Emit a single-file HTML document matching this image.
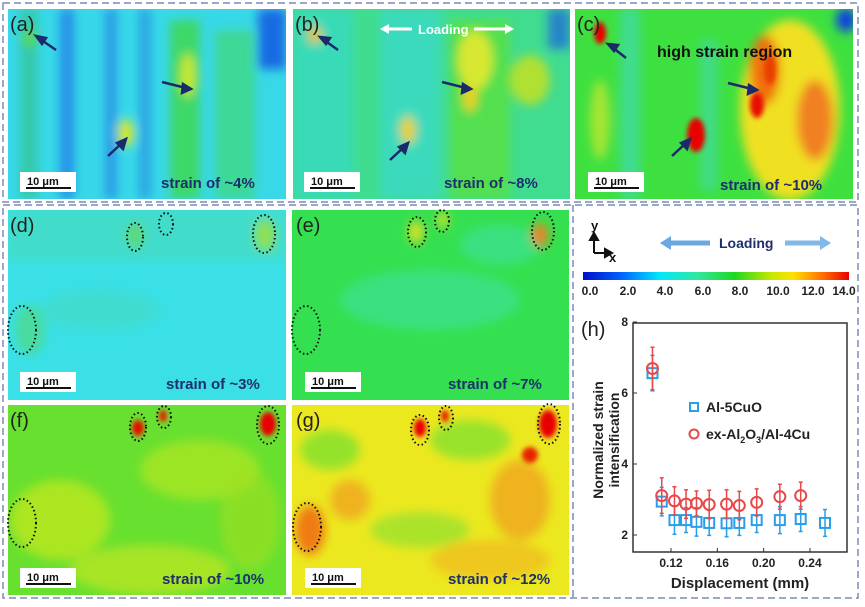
<!DOCTYPE html>
<html><head><meta charset="utf-8"><style>
html,body{margin:0;padding:0;background:#fff;width:865px;height:607px;overflow:hidden;font-family:"Liberation Sans",sans-serif}
svg text{font-family:"Liberation Sans",sans-serif}
</style></head><body>
<svg id="fig" width="865" height="607" viewBox="0 0 865 607" xmlns="http://www.w3.org/2000/svg">
<defs>
<filter id="bl" x="-50%" y="-50%" width="200%" height="200%"><feGaussianBlur stdDeviation="5"/></filter>
<filter id="bl2" x="-50%" y="-50%" width="200%" height="200%"><feGaussianBlur stdDeviation="2.5"/></filter>
<linearGradient id="jet" x1="0" x2="1" y1="0" y2="0">
<stop offset="0" stop-color="#0010c8"/><stop offset="0.14" stop-color="#0060ff"/><stop offset="0.29" stop-color="#00e8f8"/><stop offset="0.43" stop-color="#30e8a0"/><stop offset="0.57" stop-color="#20d820"/><stop offset="0.71" stop-color="#c8e800"/><stop offset="0.79" stop-color="#ffe000"/><stop offset="0.9" stop-color="#ff7000"/><stop offset="1" stop-color="#e80000"/>
</linearGradient>
<clipPath id="ca"><rect x="8" y="9" width="278" height="190"/></clipPath>
<clipPath id="cb"><rect x="293" y="9" width="277" height="190"/></clipPath>
<clipPath id="cc"><rect x="575" y="9" width="278" height="190"/></clipPath>
<clipPath id="cd"><rect x="8" y="210" width="278" height="190"/></clipPath>
<clipPath id="ce"><rect x="292" y="210" width="277" height="190"/></clipPath>
<clipPath id="cf"><rect x="8" y="405" width="278" height="190"/></clipPath>
<clipPath id="cg"><rect x="292" y="405" width="277" height="190"/></clipPath>
</defs>
<g fill="none" stroke="#7a8cb8" stroke-width="1.5" stroke-dasharray="7,4">
<rect x="3" y="3" width="855" height="199"/>
<rect x="3" y="205" width="855" height="393"/>
<line x1="573" y1="205" x2="573" y2="598"/>
</g>

<g clip-path="url(#ca)">
<rect x="8" y="9" width="278" height="190" fill="#38d8e8"/>
<g filter="url(#bl)">
<rect x="20" y="9" width="18" height="190" fill="#30c080" opacity=".6"/>
<rect x="60" y="9" width="14" height="190" fill="#1a70e8" opacity=".7"/>
<rect x="105" y="9" width="12" height="190" fill="#1a70e8" opacity=".6"/>
<rect x="140" y="9" width="10" height="190" fill="#1a60e0" opacity=".5"/>
<rect x="170" y="20" width="30" height="179" fill="#40d848" opacity=".8"/>
<rect x="215" y="30" width="40" height="169" fill="#40d860" opacity=".6"/>
<rect x="258" y="9" width="28" height="60" fill="#1050e0" opacity=".8"/>
<ellipse cx="126" cy="133" rx="8" ry="14" fill="#d8e820"/>
<ellipse cx="188" cy="75" rx="8" ry="22" fill="#c8e830"/>
<ellipse cx="30" cy="38" rx="7" ry="8" fill="#60d840"/>
</g></g>
<g clip-path="url(#cb)">
<rect x="293" y="9" width="277" height="190" fill="#40dc90"/>
<g filter="url(#bl)">
<rect x="293" y="9" width="60" height="190" fill="#30d8d0" opacity=".6"/>
<rect x="380" y="9" width="60" height="190" fill="#38d8d8" opacity=".6"/>
<rect x="450" y="20" width="60" height="179" fill="#58e040" opacity=".8"/>
<ellipse cx="475" cy="60" rx="18" ry="30" fill="#d8e830"/>
<ellipse cx="530" cy="80" rx="20" ry="25" fill="#b0e030"/>
<ellipse cx="408" cy="130" rx="8" ry="14" fill="#f0d020"/>
<ellipse cx="470" cy="98" rx="7" ry="14" fill="#f0d020"/>
<ellipse cx="315" cy="35" rx="7" ry="9" fill="#f0c020"/>
<rect x="548" y="9" width="22" height="40" fill="#1860e0" opacity=".7"/>
</g></g>
<g clip-path="url(#cc)">
<rect x="575" y="9" width="278" height="190" fill="#3ee040"/>
<g filter="url(#bl)">
<rect x="620" y="9" width="20" height="190" fill="#40d8c8" opacity=".6"/>
<rect x="700" y="40" width="18" height="150" fill="#40d8c8" opacity=".5"/>
<ellipse cx="790" cy="110" rx="50" ry="90" fill="#f0e020"/>
<ellipse cx="765" cy="70" rx="15" ry="35" fill="#f07010"/>
<ellipse cx="815" cy="120" rx="18" ry="40" fill="#f08020"/>
<ellipse cx="600" cy="120" rx="10" ry="40" fill="#d0e830" opacity=".7"/>
<ellipse cx="846" cy="20" rx="10" ry="12" fill="#1040e0"/>
</g>
<g filter="url(#bl2)">
<ellipse cx="696" cy="135" rx="9" ry="17" fill="#e80000"/>
<ellipse cx="757" cy="105" rx="7" ry="13" fill="#e81000"/>
<ellipse cx="600" cy="33" rx="6" ry="11" fill="#e80000"/>
<ellipse cx="770" cy="70" rx="6" ry="15" fill="#e84000"/>
</g></g>
<g clip-path="url(#cd)">
<rect x="8" y="210" width="278" height="190" fill="#3ae0e6"/>
<g filter="url(#bl)">
<rect x="8" y="210" width="278" height="50" fill="#50d8a0" opacity=".4"/>
<ellipse cx="30" cy="330" rx="15" ry="25" fill="#50d880" opacity=".7"/>
<ellipse cx="265" cy="235" rx="10" ry="16" fill="#90e050"/>
<ellipse cx="135" cy="235" rx="8" ry="12" fill="#60d870"/>
<ellipse cx="100" cy="310" rx="60" ry="20" fill="#48d8b0" opacity=".4"/>
</g></g>
<g clip-path="url(#ce)">
<rect x="292" y="210" width="277" height="190" fill="#34e050"/>
<g filter="url(#bl)">
<ellipse cx="430" cy="300" rx="90" ry="30" fill="#40e0b0" opacity=".5"/>
<ellipse cx="500" cy="245" rx="40" ry="20" fill="#40e0b0" opacity=".5"/>
<ellipse cx="540" cy="235" rx="8" ry="12" fill="#f08020"/>
<ellipse cx="416" cy="232" rx="7" ry="11" fill="#e8e020"/>
<ellipse cx="443" cy="220" rx="5" ry="8" fill="#e0e020"/>
</g></g>
<g clip-path="url(#cf)">
<rect x="8" y="405" width="278" height="190" fill="#68e030"/>
<g filter="url(#bl)">
<ellipse cx="60" cy="520" rx="50" ry="40" fill="#c8e820" opacity=".7"/>
<ellipse cx="200" cy="470" rx="60" ry="30" fill="#c0e820" opacity=".6"/>
<ellipse cx="150" cy="570" rx="80" ry="25" fill="#d0e820" opacity=".6"/>
<ellipse cx="250" cy="520" rx="30" ry="50" fill="#a0e020" opacity=".6"/>
</g>
<g filter="url(#bl2)">
<ellipse cx="268" cy="424" rx="8" ry="12" fill="#e80000"/>
<ellipse cx="138" cy="428" rx="6" ry="8" fill="#e81000"/>
<ellipse cx="163" cy="416" rx="4" ry="6" fill="#e82000"/>
</g></g>
<g clip-path="url(#cg)">
<rect x="292" y="405" width="277" height="190" fill="#ece820"/>
<g filter="url(#bl)">
<ellipse cx="330" cy="450" rx="30" ry="20" fill="#70e030" opacity=".7"/>
<ellipse cx="470" cy="440" rx="40" ry="20" fill="#60e030" opacity=".6"/>
<ellipse cx="420" cy="530" rx="50" ry="18" fill="#80e030" opacity=".6"/>
<ellipse cx="310" cy="530" rx="15" ry="25" fill="#f06010" opacity=".8"/>
<ellipse cx="350" cy="500" rx="20" ry="20" fill="#f09020" opacity=".6"/>
<ellipse cx="520" cy="500" rx="30" ry="40" fill="#f09020" opacity=".6"/>
<ellipse cx="490" cy="560" rx="60" ry="20" fill="#f0b020" opacity=".6"/>
</g>
<g filter="url(#bl2)">
<ellipse cx="548" cy="424" rx="9" ry="14" fill="#e80000"/>
<ellipse cx="420" cy="428" rx="6" ry="9" fill="#e80000"/>
<ellipse cx="445" cy="416" rx="4" ry="6" fill="#e82000"/>
<ellipse cx="530" cy="455" rx="8" ry="8" fill="#e82000"/>
</g></g>

<g fill="none" stroke="#111" stroke-width="2" stroke-dasharray="1.5,2.5">
<ellipse cx="135" cy="237" rx="8" ry="14"/><ellipse cx="166" cy="224" rx="7" ry="11"/><ellipse cx="264" cy="234" rx="11" ry="19"/><ellipse cx="22" cy="330" rx="14" ry="24"/>
<ellipse cx="417" cy="232" rx="9" ry="15"/><ellipse cx="442" cy="221" rx="7" ry="11"/><ellipse cx="543" cy="231" rx="11" ry="19"/><ellipse cx="306" cy="330" rx="14" ry="24"/>
<ellipse cx="138" cy="427" rx="8" ry="14"/><ellipse cx="164" cy="417" rx="7" ry="11"/><ellipse cx="268" cy="425" rx="11" ry="19"/><ellipse cx="22" cy="523" rx="14" ry="24"/>
<ellipse cx="420" cy="430" rx="9" ry="15"/><ellipse cx="446" cy="418" rx="7" ry="12"/><ellipse cx="549" cy="424" rx="11" ry="20"/><ellipse cx="307" cy="527" rx="14" ry="24"/>
</g>
<g stroke="#1a2a6a" stroke-width="2.5" fill="#1a2a6a">
<line x1="56" y1="50" x2="40" y2="39"/><polygon points="36,36 46,38 42,44"/>
<line x1="108" y1="156" x2="122" y2="143"/><polygon points="126,139 123,149 117,143"/>
<line x1="162" y1="82" x2="186" y2="88"/><polygon points="191,89 182,93 183,84"/>
<line x1="338" y1="50" x2="324" y2="40"/><polygon points="320,37 330,38 326,44"/>
<line x1="390" y1="160" x2="404" y2="147"/><polygon points="408,143 405,153 399,147"/>
<line x1="442" y1="82" x2="466" y2="88"/><polygon points="471,89 462,93 463,84"/>
<line x1="626" y1="58" x2="612" y2="47"/><polygon points="608,44 618,45 614,51"/>
<line x1="672" y1="156" x2="686" y2="143"/><polygon points="690,139 687,149 681,143"/>
<line x1="728" y1="83" x2="752" y2="89"/><polygon points="757,90 748,94 749,85"/>
</g>
<g font-size="20" fill="#222">
<text x="10" y="31">(a)</text><text x="295" y="31">(b)</text><text x="577" y="31">(c)</text>
<text x="10" y="232">(d)</text><text x="296" y="232">(e)</text><text x="10" y="427">(f)</text><text x="296" y="427">(g)</text>
<text x="581" y="336">(h)</text>
</g>
<g font-size="11" font-weight="bold" fill="#111">
<g><rect x="20" y="172" width="56" height="20" fill="#fff"/><text x="27" y="185">10 μm</text><line x1="26" y1="188" x2="71" y2="188" stroke="#111" stroke-width="2"/></g>
<g><rect x="304" y="172" width="56" height="20" fill="#fff"/><text x="311" y="185">10 μm</text><line x1="310" y1="188" x2="355" y2="188" stroke="#111" stroke-width="2"/></g>
<g><rect x="588" y="172" width="56" height="20" fill="#fff"/><text x="595" y="185">10 μm</text><line x1="594" y1="188" x2="639" y2="188" stroke="#111" stroke-width="2"/></g>
<g><rect x="20" y="372" width="56" height="20" fill="#fff"/><text x="27" y="385">10 μm</text><line x1="26" y1="388" x2="71" y2="388" stroke="#111" stroke-width="2"/></g>
<g><rect x="305" y="372" width="56" height="20" fill="#fff"/><text x="312" y="385">10 μm</text><line x1="311" y1="388" x2="356" y2="388" stroke="#111" stroke-width="2"/></g>
<g><rect x="20" y="568" width="56" height="20" fill="#fff"/><text x="27" y="581">10 μm</text><line x1="26" y1="584" x2="71" y2="584" stroke="#111" stroke-width="2"/></g>
<g><rect x="305" y="568" width="56" height="20" fill="#fff"/><text x="312" y="581">10 μm</text><line x1="311" y1="584" x2="356" y2="584" stroke="#111" stroke-width="2"/></g>
</g>
<g font-size="15" font-weight="bold" fill="#1e2f6e">
<text x="161" y="188">strain of ~4%</text><text x="444" y="188">strain of ~8%</text><text x="720" y="190">strain of ~10%</text>
<text x="166" y="389">strain of ~3%</text><text x="448" y="389">strain of ~7%</text>
<text x="162" y="584">strain of ~10%</text><text x="448" y="584">strain of ~12%</text>
</g>
<text x="657" y="57" font-size="16" font-weight="bold" fill="#111">high strain region</text>
<g>
<text x="418" y="34" font-size="13" font-weight="bold" fill="#fff">Loading</text>
<line x1="386" y1="29" x2="412" y2="29" stroke="#fff" stroke-width="3"/><polygon points="380,29 389,24 389,34" fill="#fff"/>
<line x1="474" y1="29" x2="508" y2="29" stroke="#fff" stroke-width="3"/><polygon points="514,29 505,24 505,34" fill="#fff"/>
</g>
<g stroke="#111" stroke-width="2" fill="#111">
<line x1="594" y1="238" x2="594" y2="253" /><line x1="594" y1="253" x2="607" y2="253"/>
<polygon points="594,233 590,240 598,240"/><polygon points="612,253 605,249 605,257"/>
<text x="591" y="230" font-size="13" font-weight="bold" stroke="none">y</text>
<text x="609" y="262" font-size="13" font-weight="bold" stroke="none">x</text>
</g>
<g>
<line x1="668" y1="243" x2="710" y2="243" stroke="#6aa8e0" stroke-width="5"/><polygon points="660,243 671,236 671,250" fill="#6aa8e0"/>
<text x="719" y="248" font-size="14" font-weight="bold" fill="#1e2f6e">Loading</text>
<line x1="785" y1="243" x2="823" y2="243" stroke="#80b8e8" stroke-width="5"/><polygon points="831,243 820,236 820,250" fill="#80b8e8"/>
</g>
<rect x="583" y="272" width="266" height="8" fill="url(#jet)"/>
<g font-size="12" font-weight="bold" fill="#222" text-anchor="middle">
<text x="590" y="295">0.0</text><text x="628" y="295">2.0</text><text x="665" y="295">4.0</text><text x="703" y="295">6.0</text><text x="740" y="295">8.0</text><text x="778" y="295">10.0</text><text x="813" y="295">12.0</text><text x="844" y="295">14.0</text>
</g>
<g id="chart"></g>
</svg>
<script>
const xs=[0.104,0.112,0.123,0.133,0.142,0.153,0.168,0.179,0.194,0.214,0.232,0.253];
const blueVals=[6.56,2.94,2.42,2.42,2.37,2.34,2.33,2.34,2.42,2.42,2.45,2.34];
const blueErr=[0.5,0.4,0.4,0.35,0.4,0.35,0.38,0.35,0.35,0.38,0.35,0.38];
const redX=[0.104,0.112,0.123,0.133,0.142,0.153,0.168,0.179,0.194,0.214,0.232];
const redVals=[6.69,3.11,2.96,2.87,2.89,2.86,2.87,2.83,2.92,3.08,3.11];
const redErr=[0.6,0.5,0.4,0.4,0.35,0.4,0.4,0.4,0.38,0.35,0.38];
const xTicks=[0.12,0.16,0.20,0.24];
const xTickLabels=["0.12","0.16","0.20","0.24"];
const yTicks=[2,4,6,8];
const NS="http://www.w3.org/2000/svg";
const L=633,R=847,T=323,B=552;
function sx(v){return 671+(v-0.12)*1158;}
function sy(v){return 535-(v-2)*35.5;}
const g=document.getElementById('chart');
function mk(tag,at,parent){const e=document.createElementNS(NS,tag);for(const k in at)e.setAttribute(k,at[k]);(parent||g).appendChild(e);return e;}
const frame=mk('rect',{x:L,y:T,width:R-L,height:B-T,fill:'#fff',stroke:'#333','stroke-width':1.5});


xTicks.forEach((t,i)=>{
  const tk=mk('line',{x1:sx(t),x2:sx(t),y1:B,y2:B-4,stroke:'#333'});
  
  
  const tx=mk('text',{x:sx(t),y:B+15,'font-size':12,'font-weight':'bold','text-anchor':'middle',fill:'#222'});
  tx.textContent=xTickLabels[i];
  
  
});
yTicks.forEach(t=>{
  const tk=mk('line',{x1:L,x2:L+4,y1:sy(t),y2:sy(t),stroke:'#333'});
  
  
  const tx=mk('text',{x:L-5,y:sy(t)+4,'font-size':12,'font-weight':'bold','text-anchor':'end',fill:'#222'});
  tx.textContent=String(t);
  
  
});
const xt=mk('text',{x:740,y:588,'font-size':15,'font-weight':'bold','text-anchor':'middle',fill:'#222'});
xt.textContent='Displacement (mm)';


const yt=mk('text',{transform:'translate(603,440) rotate(-90)','font-size':14,'font-weight':'bold','text-anchor':'middle',fill:'#222'});


const t1=mk('tspan',{x:0,dy:0},yt);t1.textContent='Normalized strain';
const t2=mk('tspan',{x:0,dy:16},yt);t2.textContent='intensification';
blueVals.forEach((v,i)=>{
  const e=mk('path',{d:`M${sx(xs[i])},${sy(v-blueErr[i])}V${sy(v+blueErr[i])}M${sx(xs[i])-2},${sy(v-blueErr[i])}h4M${sx(xs[i])-2},${sy(v+blueErr[i])}h4`,stroke:'#2a9ee8','stroke-width':1.5});
  
  
  const p=mk('rect',{x:sx(xs[i])-5,y:sy(v)-5,width:10,height:10,fill:'none',stroke:'#2a9ee8','stroke-width':2});
  
  
});
redVals.forEach((v,i)=>{
  const e=mk('path',{d:`M${sx(redX[i])},${sy(v-redErr[i])}V${sy(v+redErr[i])}M${sx(redX[i])-2},${sy(v-redErr[i])}h4M${sx(redX[i])-2},${sy(v+redErr[i])}h4`,stroke:'#e84848','stroke-width':1.5});
  
  
  const p=mk('circle',{cx:sx(redX[i]),cy:sy(v),r:5.5,fill:'none',stroke:'#e84848','stroke-width':2});
  
  
});
const lg=mk('g',{});


mk('rect',{x:690,y:403,width:8,height:8,fill:'none',stroke:'#2a9ee8','stroke-width':2},lg);
const l1=mk('text',{x:706,y:412,'font-size':14,'font-weight':'bold',fill:'#222'},lg);l1.textContent='Al-5CuO';
mk('circle',{cx:694,cy:434,r:4.5,fill:'none',stroke:'#e84848','stroke-width':2},lg);
const l2=mk('text',{x:706,y:439,'font-size':14,'font-weight':'bold',fill:'#222'},lg);
l2.innerHTML='ex-Al<tspan font-size="9" dy="4">2</tspan><tspan dy="-4">O</tspan><tspan font-size="9" dy="4">3</tspan><tspan dy="-4">/Al-4Cu</tspan>';
</script>
</body></html>
